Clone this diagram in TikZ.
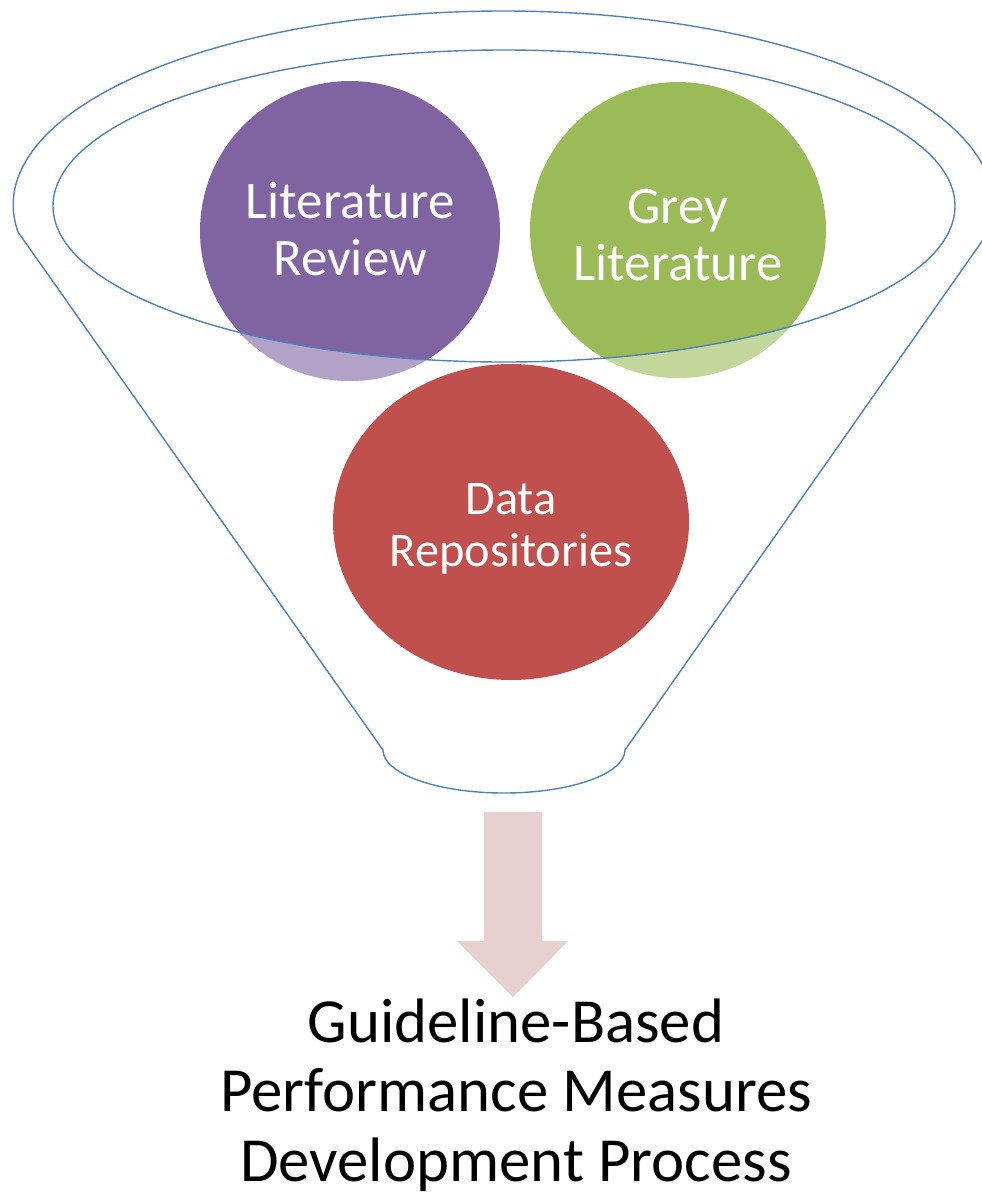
\documentclass[tikz,border=0pt]{standalone}
\usepackage{fontspec}
\setmainfont{Carlito}
\usetikzlibrary{shapes.geometric}
\definecolor{funnelblue}{HTML}{4F81BD}
\definecolor{litpurple}{HTML}{8064A2}
\definecolor{greygreen}{HTML}{9BBB59}
\definecolor{datared}{HTML}{C0504D}
\definecolor{flowpink}{RGB}{232,208,209}
\begin{document}
\begin{tikzpicture}[x=1bp,y=-1bp,
  rim/.style={draw=funnelblue, line width=1.4bp},
  bubble/.style={inner sep=0pt},
  bubbletext/.style={inner sep=0pt, text=white, align=center,
    font=\fontsize{53}{57}\selectfont},
  glass/.style={white, fill opacity=0.4, even odd rule},
  outcome/.style={align=center, text=black, inner sep=0pt, font=\fontsize{63}{70}\selectfont}]
\useasboundingbox (0,0) rectangle (982,1196);

% source bubbles
\node[bubble, circle, minimum size=300bp, fill=litpurple] (lit) at (350,231) {};
\node[bubble, circle, minimum size=296bp, fill=greygreen] (grey) at (678,230) {};

% parts of the bubbles hanging below the funnel mouth look paler
\begin{scope}
  \clip (lit.center) circle[radius=150bp];
  \fill[glass] (0,0) rectangle (982,1196) (504,206) ellipse[x radius=451bp, y radius=156bp];
\end{scope}
\begin{scope}
  \clip (grey.center) circle[radius=148bp];
  \fill[glass] (0,0) rectangle (982,1196) (504,206) ellipse[x radius=451bp, y radius=156bp];
\end{scope}

\node[bubble, ellipse, minimum width=356bp, minimum height=316bp, fill=datared] (data) at (511,522) {};

% bubble captions
\node[bubbletext] (littext) at ([yshift=2bp]lit.center) {Literature\\Review};
\node[bubbletext] (greytext) at ([yshift=-5bp]grey.center) {Grey\\Literature};
\node[bubbletext, font=\fontsize{48.5}{52}\selectfont] (datatext) at ([yshift=-7bp]data.center) {Data\\Repositories};

% funnel body and its mouth
\draw[rim] (18,232) arc[start angle=172, end angle=368, x radius=490, y radius=194]
  -- (625,750) arc[start angle=0, end angle=180, x radius=121, y radius=43] -- cycle;
\draw[rim] (504,206) ellipse[x radius=451bp, y radius=156bp];

% outflow arrow
\coordinate (spout) at (513,812);
\fill[flowpink] (spout) ++(-29,0) -- ++(58,0) -- ++(0,129) -- ++(26,0)
  -- ++(-55,56) -- ++(-56,-56) -- ++(27,0) -- cycle;

\node[outcome] (result) at (516,1095) {Guideline-Based\\Performance Measures\\Development Process};
\end{tikzpicture}
\end{document}
